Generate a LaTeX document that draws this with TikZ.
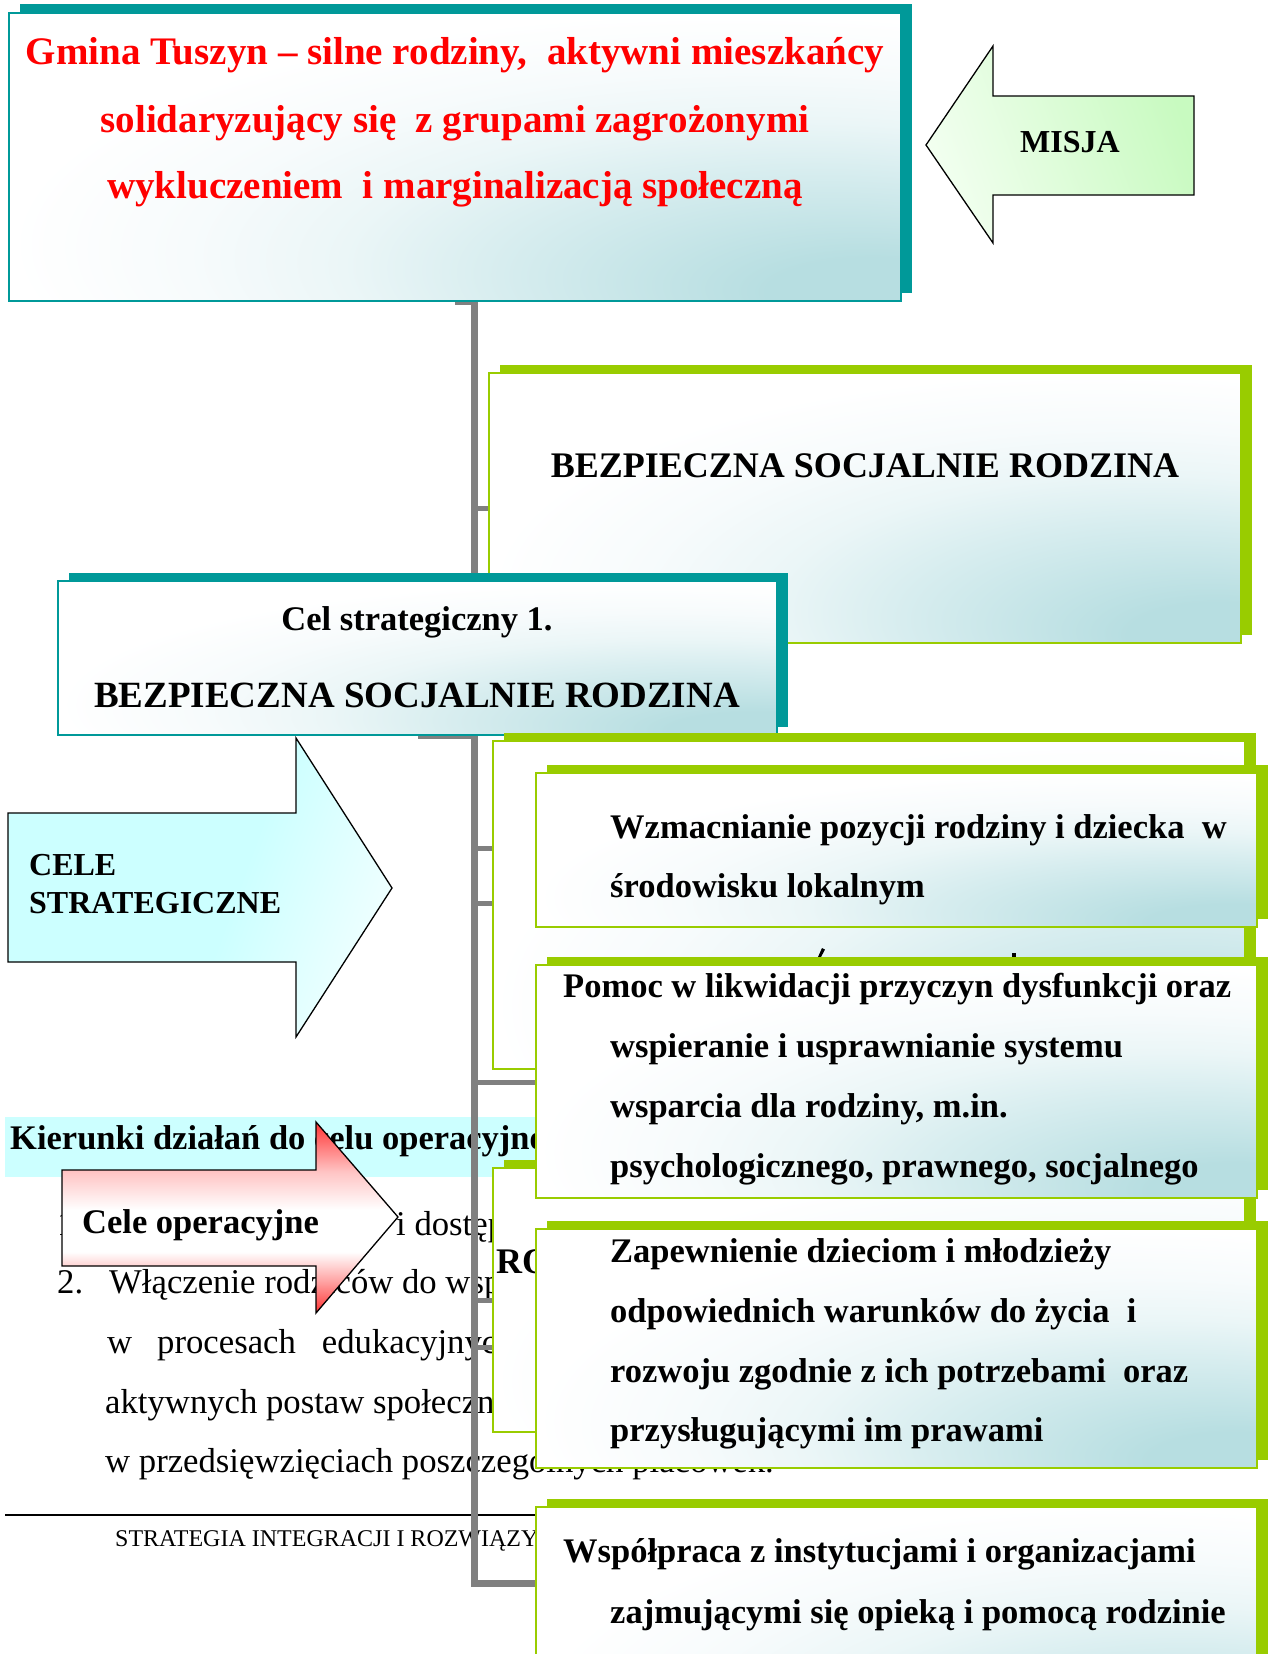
\documentclass[tikz,border=0pt]{standalone}
\usepackage{fontspec}
\setmainfont{Liberation Serif}
\usetikzlibrary{shadows}
\definecolor{tealc}{HTML}{009999}
\definecolor{bteal}{RGB}{183,222,225}
\definecolor{tmid}{RGB}{215,237,239}
\definecolor{tlow}{RGB}{235,246,247}
\definecolor{tvlow}{RGB}{247,251,252}
\definecolor{lgreen}{HTML}{99CC00}
\definecolor{conngray}{HTML}{808080}
\definecolor{misjag}{RGB}{200,250,192}
\definecolor{mlight}{RGB}{242,255,240}
\definecolor{celec}{HTML}{CCFFFF}
\definecolor{clight}{RGB}{238,255,255}
\definecolor{redar}{HTML}{FF3333}
\definecolor{pinkm}{HTML}{FF9F9F}
\definecolor{pinkl}{HTML}{FFC4C4}
\definecolor{txtred}{HTML}{FF0000}
\pgfdeclareradialshading{boxrad}{\pgfpoint{25bp}{-25bp}}{color(0bp)=(bteal); color(6bp)=(bteal); color(18bp)=(tmid); color(25bp)=(tlow); color(32bp)=(tvlow); color(40bp)=(white); color(100bp)=(white)}
\pgfdeclarehorizontalshading{misjashade}{100bp}{color(0bp)=(mlight); color(25bp)=(mlight); color(75bp)=(misjag); color(100bp)=(misjag)}
\pgfdeclarehorizontalshading{celeshade}{100bp}{color(0bp)=(celec); color(25bp)=(celec); color(55bp)=(celec); color(75bp)=(clight); color(100bp)=(clight)}
\pgfdeclareverticalshading{redshade}{100bp}{color(0bp)=(redar); color(25bp)=(redar); color(33bp)=(pinkm); color(41bp)=(white); color(52bp)=(white); color(62bp)=(pinkl); color(75bp)=(redar); color(100bp)=(redar)}
\pgfdeclarelayer{bg}
\pgfsetlayers{bg,main}
\begin{document}
\begin{tikzpicture}[x=1pt,y=-1pt,
  trunk/.style={draw=conngray, line width=7pt},
  branch/.style={draw=conngray, line width=5pt},
  boxbase/.style={line width=2pt, shade, shading=boxrad, inner sep=0pt, outer sep=0pt, anchor=north west},
  tealbox/.style={boxbase, draw=tealc, general shadow={fill=tealc, opacity=1, shadow xshift=11pt, shadow yshift=8.5pt}},
  greenbox/.style={boxbase, draw=lgreen, general shadow={fill=lgreen, opacity=1, shadow xshift=11pt, shadow yshift=8.5pt}},
  arrowshape/.style={draw=black, line width=1.3pt, line join=miter},
  bt/.style={font=\bfseries\fontsize{34.5}{40}\selectfont, inner sep=0pt, anchor=base west},
  btc/.style={bt, anchor=base},
  big/.style={font=\bfseries\fontsize{36}{42}\selectfont},
  rt/.style={font=\fontsize{34.7}{40}\selectfont, inner sep=0pt, anchor=base west},
  ft/.style={font=\fontsize{24}{28}\selectfont, inner sep=0pt, anchor=base west},
  redt/.style={font=\bfseries\fontsize{39}{44}\selectfont, text=txtred, inner sep=0pt, anchor=base},
  lab/.style={font=\bfseries\fontsize{32}{38}\selectfont, inner sep=0pt, anchor=base west}
]
\useasboundingbox (0,0) rectangle (1269,1654);
% ---------- underlying page text ----------
\begin{pgfonlayer}{bg}
\fill[white] (0,0) rectangle (1269,1654);
\fill[celec] (5,1117) rectangle (540,1177);
\node[bt] (kier) at (10,1149) {Kierunki działań do celu operacyjne};
\node[rt] (n1) at (57,1235) {1.};
\node[rt] (n1b) at (396,1235) {i dostęp};
\node[rt] (n2) at (57,1293) {2.};
\node[rt] (n2b) at (109,1293) {Włączenie rodziców do wsp};
\node[rt] (l3) at (107,1353) {w\hspace{25pt}procesach\hspace{26pt}edukacyjnyc};
\node[rt] (l4) at (105,1413) {aktywnych postaw społeczn};
\node[rt] (l5) at (105,1472) {w przedsięwzięciach poszczególnych placówek.};
\coordinate (fl) at (5,1515);
\coordinate (fr) at (540,1515);
\draw[line width=2pt] (fl) -- (fr);
\node[ft] (foot) at (115,1546) {STRATEGIA INTEGRACJI I ROZWIĄZY};
\end{pgfonlayer}
% ---------- boxes ----------
\node[tealbox, minimum width=892pt, minimum height=288pt] (top) at (9,13) {};
\node[redt] (r1) at (455,65) {Gmina Tuszyn – silne rodziny,\ \ aktywni mieszkańcy};
\node[redt] (r2) at (455,132) {solidaryzujący się\ \ z grupami zagrożonymi};
\node[redt] (r3) at (455,198) {wykluczeniem\ \ i marginalizacją społeczną};

\node[greenbox, minimum width=752pt, minimum height=270pt] (g1) at (489,373) {};
\node[btc, big] (g1t) at (865,477) {BEZPIECZNA SOCJALNIE RODZINA};

\node[tealbox, minimum width=719pt, minimum height=154pt] (cel) at (58,581) {};
\node[btc] (celt1) at (417,630) {Cel strategiczny 1.};
\node[btc, font=\bfseries\fontsize{37}{42}\selectfont] (celt2) at (417,707) {BEZPIECZNA SOCJALNIE RODZINA};

\node[greenbox, minimum width=752pt, minimum height=328pt] (b2) at (493,741) {};
\fill (818,957) -- (822,948) -- (825,949.5) -- (821,957) -- cycle;
\fill (1012,953) rectangle (1016,957);

\node[greenbox, minimum width=752pt, minimum height=264pt] (ro) at (493,1168) {};
\node[bt, big] (rot) at (496,1273) {RO};

\node[greenbox, minimum width=721pt, minimum height=154pt] (wzm) at (536,773) {};
\node[bt] (w1) at (610,838) {Wzmacnianie pozycji rodziny i dziecka\ \ w};
\node[bt] (w2) at (610,897) {środowisku lokalnym};

\node[greenbox, minimum width=721pt, minimum height=233pt] (pom) at (536,965) {};
\node[bt] (p1) at (563,997) {Pomoc w likwidacji przyczyn dysfunkcji oraz};
\node[bt] (p2) at (610,1057) {wspieranie i usprawnianie systemu};
\node[bt] (p3) at (610,1117) {wsparcia dla rodziny, m.in.};
\node[bt] (p4) at (610,1177) {psychologicznego, prawnego, socjalnego};

\node[greenbox, minimum width=721pt, minimum height=239pt] (zap) at (536,1229) {};
\node[bt] (z1) at (610,1262) {Zapewnienie dzieciom i młodzieży};
\node[bt] (z2) at (610,1322) {odpowiednich warunków do życia\ \ i};
\node[bt] (z3) at (610,1382) {rozwoju zgodnie z ich potrzebami\ \ oraz};
\node[bt] (z4) at (610,1441) {przysługującymi im prawami};

\node[greenbox, minimum width=721pt, minimum height=260pt] (wsp) at (536,1507) {};
\node[bt] (s1) at (563,1562) {Współpraca z instytucjami i organizacjami};
\node[bt] (s2) at (610,1623) {zajmującymi się opieką i pomocą rodzinie};

% ---------- arrows ----------
\path[arrowshape, shade, shading=misjashade, shading angle=20]
  (926,145) -- (993,46) -- (993,96) -- (1194,96) -- (1194,195) -- (993,195) -- (993,243) -- cycle;
\node[lab, anchor=base] (misja) at (1070,152) {MISJA};

\path[arrowshape, shade, shading=celeshade, shading angle=-20]
  (8,813) -- (296,813) -- (296,738) -- (392,888) -- (296,1037) -- (296,962) -- (8,962) -- cycle;
\node[lab] (cele1) at (29,875) {CELE};
\node[lab] (cele2) at (29,913) {STRATEGICZNE};

\path[arrowshape, shade, shading=redshade]
  (62,1170) -- (316,1170) -- (316,1122) -- (398,1217) -- (316,1313) -- (316,1266) -- (62,1266) -- cycle;
\node[bt] (opt) at (82,1233) {Cele operacyjne};

% ---------- connectors ----------
\begin{pgfonlayer}{bg}
\coordinate (tk0) at (474,301);
\coordinate (tkend) at (474,1583);
\draw[trunk] (top.south) -- (tk0) -- (tkend) -- (tkend -| wsp.west);
\draw[trunk] (cel.south) -- (cel.south -| tk0);
\coordinate (j1) at (474,508);
\draw[branch] (j1) -- (j1 -| g1.west);
\coordinate (j2) at (474,848);
\draw[branch] (j2) -- (j2 -| wzm.west);
\coordinate (j3) at (474,903);
\draw[branch] (j3) -- (j3 -| b2.west);
\coordinate (j4) at (474,1082);
\draw[branch] (j4) -- (j4 -| pom.west);
\coordinate (j5) at (474,1300);
\draw[branch] (j5) -- (j5 -| ro.west);
\coordinate (j6) at (474,1347);
\draw[branch] (j6) -- (j6 -| zap.west);
\end{pgfonlayer}
\end{tikzpicture}
\end{document}
